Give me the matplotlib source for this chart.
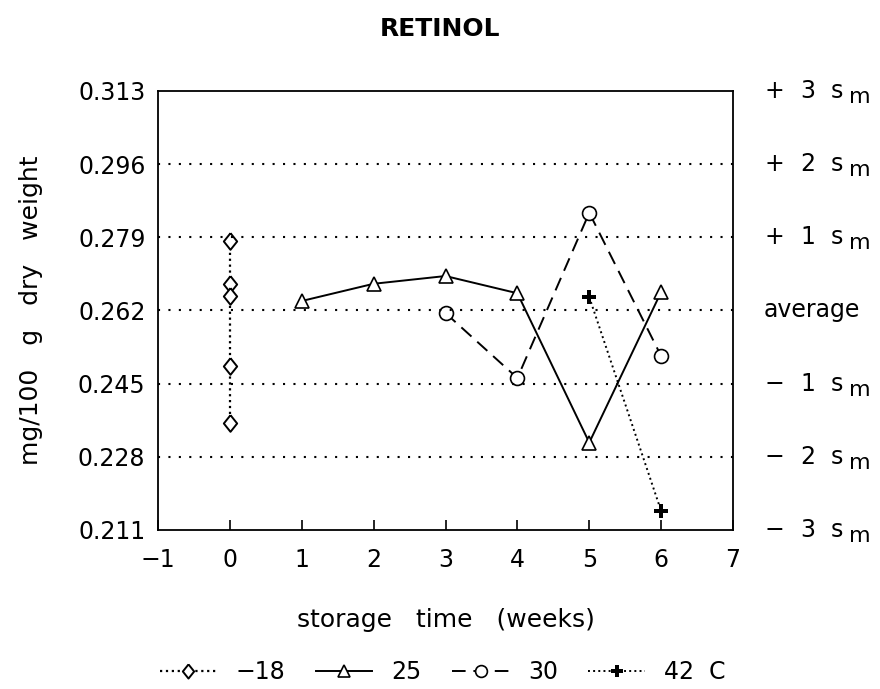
import matplotlib.pyplot as plt
import matplotlib.transforms as mtransforms

plt.rcParams['font.family'] = ['DejaVu Sans']

# data
weeks_m18 = [0, 0, 0, 0, 0]
retinol_m18 = [0.2782, 0.2682, 0.2654, 0.2491, 0.2359]
weeks_25 = [1, 2, 3, 4, 5, 6]
retinol_25 = [0.2642, 0.2682, 0.2700, 0.2660, 0.2313, 0.2663]
weeks_30 = [3, 4, 5, 6]
retinol_30 = [0.2614, 0.2463, 0.2847, 0.2514]
weeks_42 = [5, 6]
retinol_42 = [0.2651, 0.2154]

y_ticks = [0.211, 0.228, 0.245, 0.262, 0.279, 0.296, 0.313]
sd_signs = ['\u2212', '\u2212', '\u2212', None, '+', '+', '+']
sd_counts = ['3', '2', '1', None, '1', '2', '3']
x_ticks = [-1, 0, 1, 2, 3, 4, 5, 6, 7]

# diamond a bit taller than wide, like the original plotter symbol
diamond = [(0, 1), (0.8, 0), (0, -1), (-0.8, 0), (0, 1)]

fig = plt.figure(figsize=(8.8, 6.89), dpi=100)
ax = fig.add_axes([0.1795, 0.2308, 0.6535, 0.6372])

mk = dict(markerfacecolor='white', markeredgecolor='black', color='black')
l1, = ax.plot(weeks_m18, retinol_m18, linestyle=':', marker=diamond, markersize=12,
              markeredgewidth=1.4, lw=1.6, **mk)
l2, = ax.plot(weeks_25, retinol_25, linestyle='-', marker='^', markersize=10,
              markeredgewidth=1.2, lw=1.4, **mk)
l3, = ax.plot(weeks_30, retinol_30, linestyle=(0, (7, 4)), marker='o', markersize=10,
              markeredgewidth=1.2, lw=1.4, **mk)
l4, = ax.plot(weeks_42, retinol_42, linestyle=':', marker='P', color='black',
              markersize=10, markeredgewidth=0, lw=1.4)

ax.set_xlim(-1, 7)
ax.set_ylim(0.211, 0.313)
ax.set_xticks(x_ticks)
ax.set_xticklabels([str(t).replace('-', '\u2212') for t in x_ticks])
ax.set_yticks(y_ticks)
ax.set_yticklabels([f'{v:.3f}' for v in y_ticks])
for v in y_ticks[1:-1]:
    ax.axhline(v, color='black', linestyle=(0, (1, 4)), lw=1.5)
ax.tick_params(direction='in', length=7, labelsize=17, width=1.2)
ax.tick_params(axis='x', pad=13)
ax.tick_params(axis='y', pad=9, length=0)
for s in ax.spines.values():
    s.set_linewidth(1.3)

# right-hand labels: average and +/- n s_m, in fixed columns
blend = mtransforms.blended_transform_factory(ax.transAxes, ax.transData)
def shifted(dx, dy=0):
    return blend + mtransforms.ScaledTranslation(dx / 100, dy / 100, fig.dpi_scale_trans)

for v, sg, n in zip(y_ticks, sd_signs, sd_counts):
    if sg is None:
        ax.text(1, v, 'average', transform=shifted(31), fontsize=17, va='center', ha='left')
        continue
    ax.text(1, v, sg, transform=shifted(31), fontsize=17, va='center', ha='left')
    ax.text(1, v, n, transform=shifted(67), fontsize=17, va='center', ha='left')
    ax.text(1, v, 's', transform=shifted(98), fontsize=17, va='center', ha='left')
    ax.text(1, v, 'm', transform=shifted(116, -6), fontsize=16, va='center', ha='left')

ax.set_ylabel('mg/100   g   dry   weight', fontsize=18)
ax.yaxis.set_label_coords(-0.2, 0.5)
ax.set_xlabel('storage   time   (weeks)', fontsize=18)
ax.xaxis.set_label_coords(0.5, -0.178)
fig.text(0.5, 0.958, 'RETINOL', ha='center', va='center', fontsize=18, fontweight='bold')

fig.legend([l1, l2, l3, l4], ['\u221218', '25', '30', '42  C'], loc='center',
           bbox_to_anchor=(0.503, 0.025), ncol=4, frameon=False, fontsize=17,
           handlelength=2.4, columnspacing=1.3, handletextpad=0.8, markerscale=0.85)

fig.savefig('out.png', dpi=100, facecolor='white')
